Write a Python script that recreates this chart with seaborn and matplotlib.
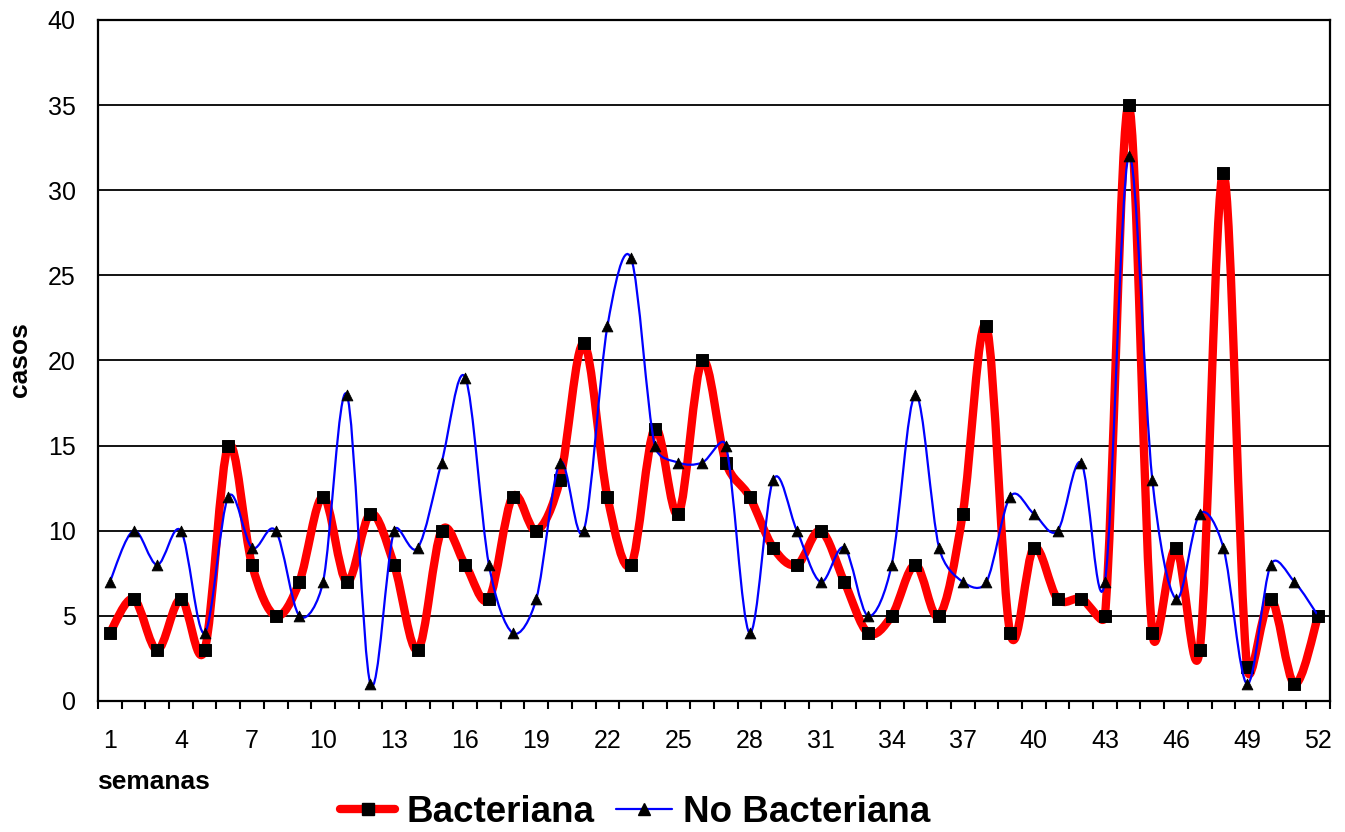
import numpy as np
import pandas as pd
import matplotlib
matplotlib.use("Agg")
import matplotlib.pyplot as plt
from matplotlib.path import Path
from matplotlib.patches import PathPatch
from matplotlib.lines import Line2D
import seaborn as sns

weeks = list(range(1, 53))
bacteriana = [4, 6, 3, 6, 3, 15, 8, 5, 7, 12, 7, 11, 8, 3, 10, 8, 6, 12, 10, 13,
              21, 12, 8, 16, 11, 20, 14, 12, 9, 8, 10, 7, 4, 5, 8, 5, 11, 22, 4, 9,
              6, 6, 5, 35, 4, 9, 3, 31, 2, 6, 1, 5]
no_bacteriana = [7, 10, 8, 10, 4, 12, 9, 10, 5, 7, 18, 1, 10, 9, 14, 19, 8, 4, 6, 14,
                 10, 22, 26, 15, 14, 14, 15, 4, 13, 10, 7, 9, 5, 8, 18, 9, 7, 7, 12, 11,
                 10, 14, 7, 32, 13, 6, 11, 9, 1, 8, 7, 5]
tick_weeks = list(range(1, 53, 3))
series_names = ["Bacteriana", "No Bacteriana"]

df = pd.DataFrame({"semana": weeks, "Bacteriana": bacteriana, "No Bacteriana": no_bacteriana})

sns.set_theme(style="white")
plt.rcParams["font.family"] = ["Liberation Sans", "DejaVu Sans"]
plt.rcParams["text.color"] = "black"
plt.rcParams["xtick.color"] = "black"
plt.rcParams["ytick.color"] = "black"
plt.rcParams["axes.labelcolor"] = "black"

W, H = 1345, 832
fig = plt.figure(figsize=(W / 100, H / 100), dpi=100)
ax = fig.add_axes([98 / W, 1 - 701 / H, (1330 - 98) / W, (701 - 20) / H])

# pixel scale of data units (for the spreadsheet-style smoothing limits)
SX = (1318 - 110) / 51.0
SY = (701 - 20) / 40.0


def smooth_path(xs, ys):
    pts = np.column_stack([xs, ys]).astype(float)
    ext = np.vstack([pts[0], pts, pts[-1]])
    scale = np.array([SX, SY])

    def dist(a, b):
        return float(np.hypot(*((b - a) * scale)))

    verts = [pts[0]]
    codes = [Path.MOVETO]
    for i in range(len(pts) - 1):
        p0, p1, p2, p3 = ext[i], ext[i + 1], ext[i + 2], ext[i + 3]
        d12 = dist(p1, p2)
        d02 = dist(p0, p2)
        d13 = dist(p1, p3)
        f0 = 1 / 6 if d02 == 0 else min(1 / 6, d12 / 2 / d02)
        f1 = 1 / 6 if d13 == 0 else min(1 / 6, d12 / 2 / d13)
        c1 = p1 + (p2 - p0) * f0
        c2 = p2 - (p3 - p1) * f1
        verts += [c1, c2, p2]
        codes += [Path.CURVE4] * 3
    return Path(np.array(verts), codes)


ax.add_patch(PathPatch(smooth_path(df["semana"], df["Bacteriana"]), fill=False,
                       edgecolor="#ff0000", lw=6, capstyle="round", joinstyle="round", zorder=2))
sns.scatterplot(data=df, x="semana", y="Bacteriana", marker="s", color="black",
                edgecolor="black", s=72, ax=ax, zorder=3, legend=False)
ax.add_patch(PathPatch(smooth_path(df["semana"], df["No Bacteriana"]), fill=False,
                       edgecolor="#0000ff", lw=1.6, zorder=4))
sns.scatterplot(data=df, x="semana", y="No Bacteriana", marker="^", color="black",
                edgecolor="black", s=60, ax=ax, zorder=5, legend=False)

ax.set_xlim(0.5, 52.5)
ax.set_ylim(0, 40)
ax.set_yticks(range(0, 41, 5))
ax.set_xticks(tick_weeks)
ax.set_xticks(np.arange(0.5, 53, 1), minor=True)
ax.tick_params(axis="x", which="major", length=0, pad=20, labelsize=18, labelcolor="black")
ax.tick_params(axis="x", which="minor", bottom=True, length=6, width=1.5, color="black", direction="out")
ax.tick_params(axis="y", which="major", left=True, length=0, pad=16, labelsize=18, labelcolor="black")
ax.grid(axis="y", color="black", lw=1.3)
ax.grid(axis="x", visible=False)
ax.set_axisbelow(True)
for sp in ax.spines.values():
    sp.set_color("black")
    sp.set_linewidth(1.6)
    sp.set_visible(True)
ax.set_xlabel("")
ax.set_ylabel("")

fig.text(97 / W, 1 - 782 / H, "semanas", ha="left", va="center", fontsize=19,
         fontweight="bold", color="black")
fig.text(20 / W, 1 - 360 / H, "casos", ha="center", va="center", rotation=90,
         fontsize=19, fontweight="bold", color="black")

handles = [
    Line2D([], [], color="#ff0000", lw=6, marker="s", markersize=9,
           markerfacecolor="black", markeredgecolor="black", solid_capstyle="round"),
    Line2D([], [], color="#0000ff", lw=1.6, marker="^", markersize=8,
           markerfacecolor="black", markeredgecolor="black"),
]
leg = fig.legend(handles, series_names, loc="center", bbox_to_anchor=(635 / W, 1 - 812 / H),
                 ncol=2, frameon=False, prop={"size": 26.5, "weight": "bold"},
                 handlelength=1.5, handletextpad=0.3, columnspacing=0.6, borderpad=0)
for t in leg.get_texts():
    t.set_color("black")

fig.savefig("out.png", dpi=100)
